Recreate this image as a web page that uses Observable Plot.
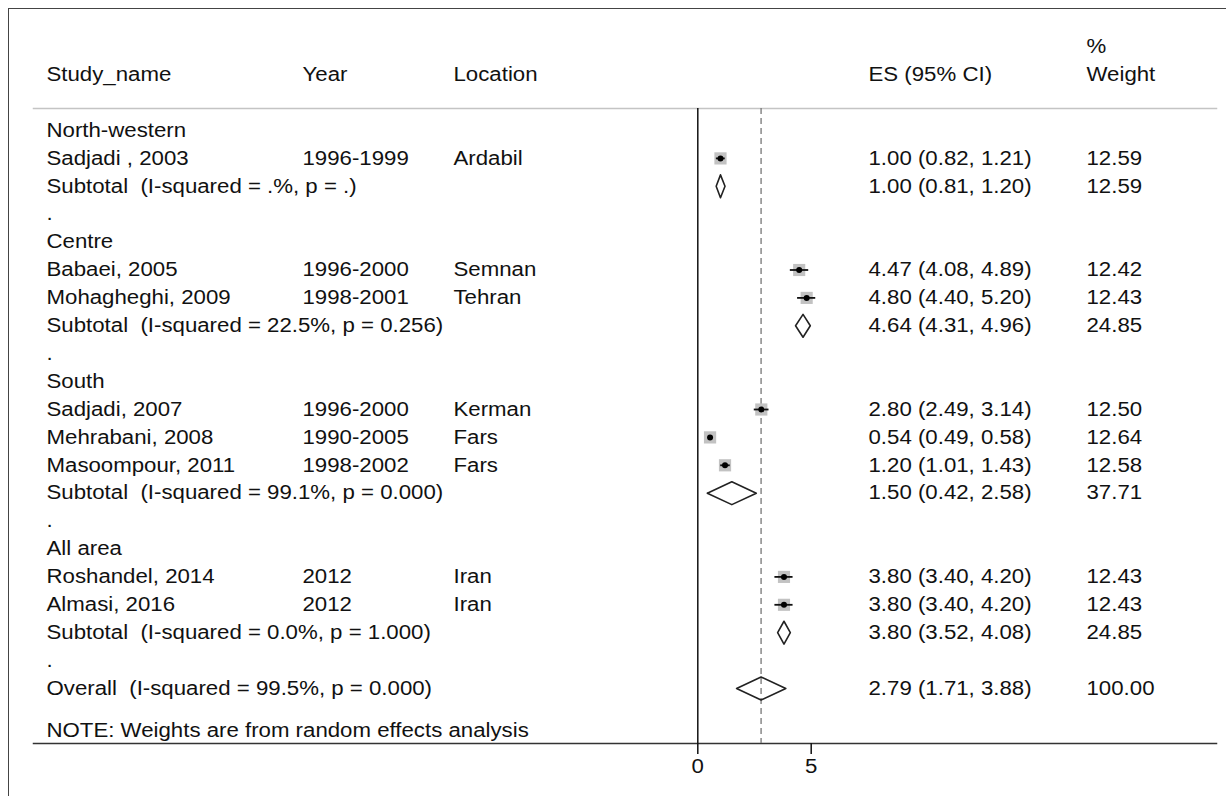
<!DOCTYPE html>
<html><head><meta charset="utf-8">
<script src="https://cdn.jsdelivr.net/npm/d3@7"></script>
<script src="https://cdn.jsdelivr.net/npm/@observablehq/plot@0.6"></script>
<style>
body{margin:0;background:#fff;}
#wrap{position:relative;width:1226px;height:796px;overflow:hidden;background:#fff;}
#border{position:absolute;left:8px;top:8px;right:-4px;bottom:-4px;border-top:1.5px solid #444;border-left:1.5px solid #444;pointer-events:none;}
svg text{white-space:pre;}
</style></head><body>
<div id="wrap"><div id="border"></div></div>
<script>
// ---- data ----
const headerLabels = ["Study_name", "Year", "Location", "ES (95% CI)", "Weight"];
const headerTop = "%";
const regions = ["North-western", "Centre", "South", "All area"];
const studyNames = ["Sadjadi , 2003", "Babaei, 2005", "Mohagheghi, 2009", "Sadjadi, 2007", "Mehrabani, 2008", "Masoompour, 2011", "Roshandel, 2014", "Almasi, 2016"];
const studyYears = ["1996-1999", "1996-2000", "1998-2001", "1996-2000", "1990-2005", "1998-2002", "2012", "2012"];
const studyLocations = ["Ardabil", "Semnan", "Tehran", "Kerman", "Fars", "Fars", "Iran", "Iran"];
const studyRegion = ["North-western", "Centre", "Centre", "South", "South", "South", "All area", "All area"];
const studyES = [1.00, 4.47, 4.80, 2.80, 0.54, 1.20, 3.80, 3.80];
const studyLo = [0.82, 4.08, 4.40, 2.49, 0.49, 1.01, 3.40, 3.40];
const studyHi = [1.21, 4.89, 5.20, 3.14, 0.58, 1.43, 4.20, 4.20];
const studyWeight = [12.59, 12.42, 12.43, 12.50, 12.64, 12.58, 12.43, 12.43];
const subtotalLabels = ["Subtotal  (I-squared = .%, p = .)", "Subtotal  (I-squared = 22.5%, p = 0.256)", "Subtotal  (I-squared = 99.1%, p = 0.000)", "Subtotal  (I-squared = 0.0%, p = 1.000)"];
const subtotalES = [1.00, 4.64, 1.50, 3.80];
const subtotalLo = [0.81, 4.31, 0.42, 3.52];
const subtotalHi = [1.20, 4.96, 2.58, 4.08];
const subtotalWeight = [12.59, 24.85, 37.71, 24.85];
const overallLabel = "Overall  (I-squared = 99.5%, p = 0.000)";
const overallES = 2.79, overallLo = 1.71, overallHi = 3.88, overallWeight = 100.00;
const noteText = "NOTE: Weights are from random effects analysis";
const xTicks = [0, 5];

// ---- build table ----
const ci = (e, l, h) => `${e.toFixed(2)} (${l.toFixed(2)}, ${h.toFixed(2)})`;
const rows = [];
let r = 0;
regions.forEach((reg, g) => {
  rows.push({row: r++, kind: "group", label: reg});
  studyNames.forEach((n, i) => {
    if (studyRegion[i] === reg) rows.push({row: r++, kind: "study", label: n, year: studyYears[i], loc: studyLocations[i],
      es: studyES[i], lo: studyLo[i], hi: studyHi[i], w: studyWeight[i], ci: ci(studyES[i], studyLo[i], studyHi[i]), wt: studyWeight[i].toFixed(2)});
  });
  rows.push({row: r++, kind: "sub", label: subtotalLabels[g], es: subtotalES[g], lo: subtotalLo[g], hi: subtotalHi[g],
    ci: ci(subtotalES[g], subtotalLo[g], subtotalHi[g]), wt: subtotalWeight[g].toFixed(2)});
  rows.push({row: r++, kind: "gap", label: "."});
});
rows.push({row: r++, kind: "sub", label: overallLabel, es: overallES, lo: overallLo, hi: overallHi,
  ci: ci(overallES, overallLo, overallHi), wt: overallWeight.toFixed(2)});
rows.push({row: r + 0.5, kind: "note", label: noteText});
rows.push({row: -2, kind: "head", label: headerLabels[0], year: headerLabels[1], loc: headerLabels[2], ci: headerLabels[3], wt: headerLabels[4]});
rows.push({row: -3, kind: "head", wt: headerTop});

const studies = rows.filter(d => d.kind === "study");
const H = 0.41;
const diamonds = rows.filter(d => d.kind === "sub").flatMap(d => [
  {id: d.row, x: d.lo, y: d.row}, {id: d.row, x: d.es, y: d.row - H}, {id: d.row, x: d.hi, y: d.row},
  {id: d.row, x: d.es, y: d.row + H}, {id: d.row, x: d.lo, y: d.row}
]);

const FS = 19.5;
const tOpts = {y: "row", frameAnchor: "left", textAnchor: "start", fill: "#111", fontSize: FS};
const col = (key, dx) => Plot.text(rows.filter(d => d[key] != null), {...tOpts, text: key, dx});

const chart = Plot.plot({
  width: 1226, height: 796,
  marginLeft: 33, marginRight: 10, marginTop: 108, marginBottom: 53,
  x: {domain: [0, 5], range: [697.3, 810.7], label: null},
  y: {domain: [0, 20], range: [130, 688], axis: null},
  r: {type: "sqrt", domain: [0, 13], range: [0, 7]},
  style: {fontFamily: "'Liberation Sans', Arial, sans-serif", fontSize: FS + "px", color: "#111", background: "transparent", overflow: "visible"},
  marks: [
    Plot.frame({anchor: "top", stroke: "#c4c4c4", strokeWidth: 1.5}),
    Plot.frame({anchor: "bottom", stroke: "#333", strokeWidth: 1.5}),
    Plot.ruleX([0], {stroke: "#111", strokeWidth: 1.5}),
    Plot.ruleX([overallES], {stroke: "#777", strokeWidth: 1.3, strokeDasharray: "6,4"}),
    Plot.axisX({ticks: xTicks, tickSize: 11, tickPadding: 5, tickFormat: d => String(d), color: "#111", strokeWidth: 1.5, fontSize: FS, label: null}),
    Plot.dot(studies, {x: "es", y: "row", r: "w", symbol: "square", fill: "#c2c2c2", stroke: null}),
    Plot.ruleY(studies, {y: "row", x1: "lo", x2: "hi", stroke: "#111", strokeWidth: 1.8}),
    Plot.dot(studies, {x: "es", y: "row", r: 3, fill: "#000", stroke: null}),
    Plot.line(diamonds, {x: "x", y: "y", z: "id", stroke: "#222", strokeWidth: 1.6, fill: "none"}),
    col("label", 13),
    col("year", 269),
    col("loc", 420),
    col("ci", 835),
    col("wt", 1053)
  ]
});

document.getElementById("wrap").insertBefore(chart, document.getElementById("border"));
const STRETCH = 1.14;
chart.querySelectorAll("text").forEach(t => {
  const w = t.getComputedTextLength();
  if (w > 0) { t.setAttribute("textLength", (w * STRETCH).toFixed(2)); t.setAttribute("lengthAdjust", "spacingAndGlyphs"); }
});
</script></body></html>
